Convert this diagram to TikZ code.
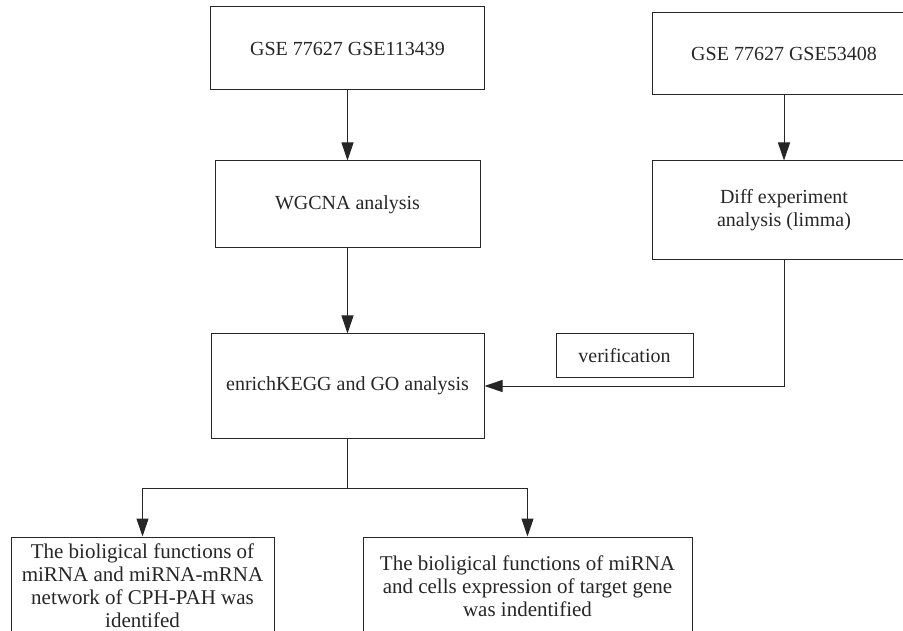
\documentclass[tikz,border=0pt]{standalone}
\usepackage{fontspec}
\setmainfont{Liberation Serif}
\usetikzlibrary{arrows.meta}

\begin{document}
\begin{tikzpicture}[->,>={Triangle[length=18pt,width=12pt]},x=1pt,y=-1pt,line width=1pt,color=black!85,box node/.style={rectangle,draw,align=center,inner sep=2pt,font=\fontsize{20}{23}\selectfont},end node/.style={box node,font=\fontsize{21}{23}\selectfont}]
				\clip (0,0) rectangle (903,631);

				\node[box node,minimum width=274pt,minimum height=83pt] (GA) at (347.5,48.5) {GSE 77627 GSE113439};
				\node[box node,minimum width=264pt,minimum height=82pt] (GB) at (784,54) {GSE 77627 GSE53408};
				\node[box node,minimum width=265pt,minimum height=87pt] (W) at (347.5,204.5) {WGCNA analysis};
				\node[box node,minimum width=264pt,minimum height=99pt] (D) at (784,210.5) {Diff experiment\\analysis (limma)};
				\node[box node,minimum width=273pt,minimum height=104pt] (E) at (347.5,386) {enrichKEGG and GO analysis};
				\node[box node,minimum width=137pt,minimum height=43pt] (V) at (624.5,355.5) {verification};
				\node[end node,minimum width=263pt,minimum height=98pt] (R1) at (142.5,586) {The bioligical functions of\\miRNA and miRNA-mRNA\\network of CPH-PAH was\\identifed};
				\node[end node,minimum width=329pt,minimum height=98pt] (R2) at (527.5,586) {The bioligical functions of miRNA\\and cells expression of target gene\\was indentified};

				\coordinate (bus) at (347.5,488);

				\draw (GA) -- (W);
				\draw (GB) -- (D);
				\draw (W) -- (E);
				\draw (D.south) |- (E.east);
				\draw[-] (E.south) -- (bus);
				\draw (bus) -| (R1.north);
				\draw (bus) -| (R2.north);

\end{tikzpicture}
\end{document}
